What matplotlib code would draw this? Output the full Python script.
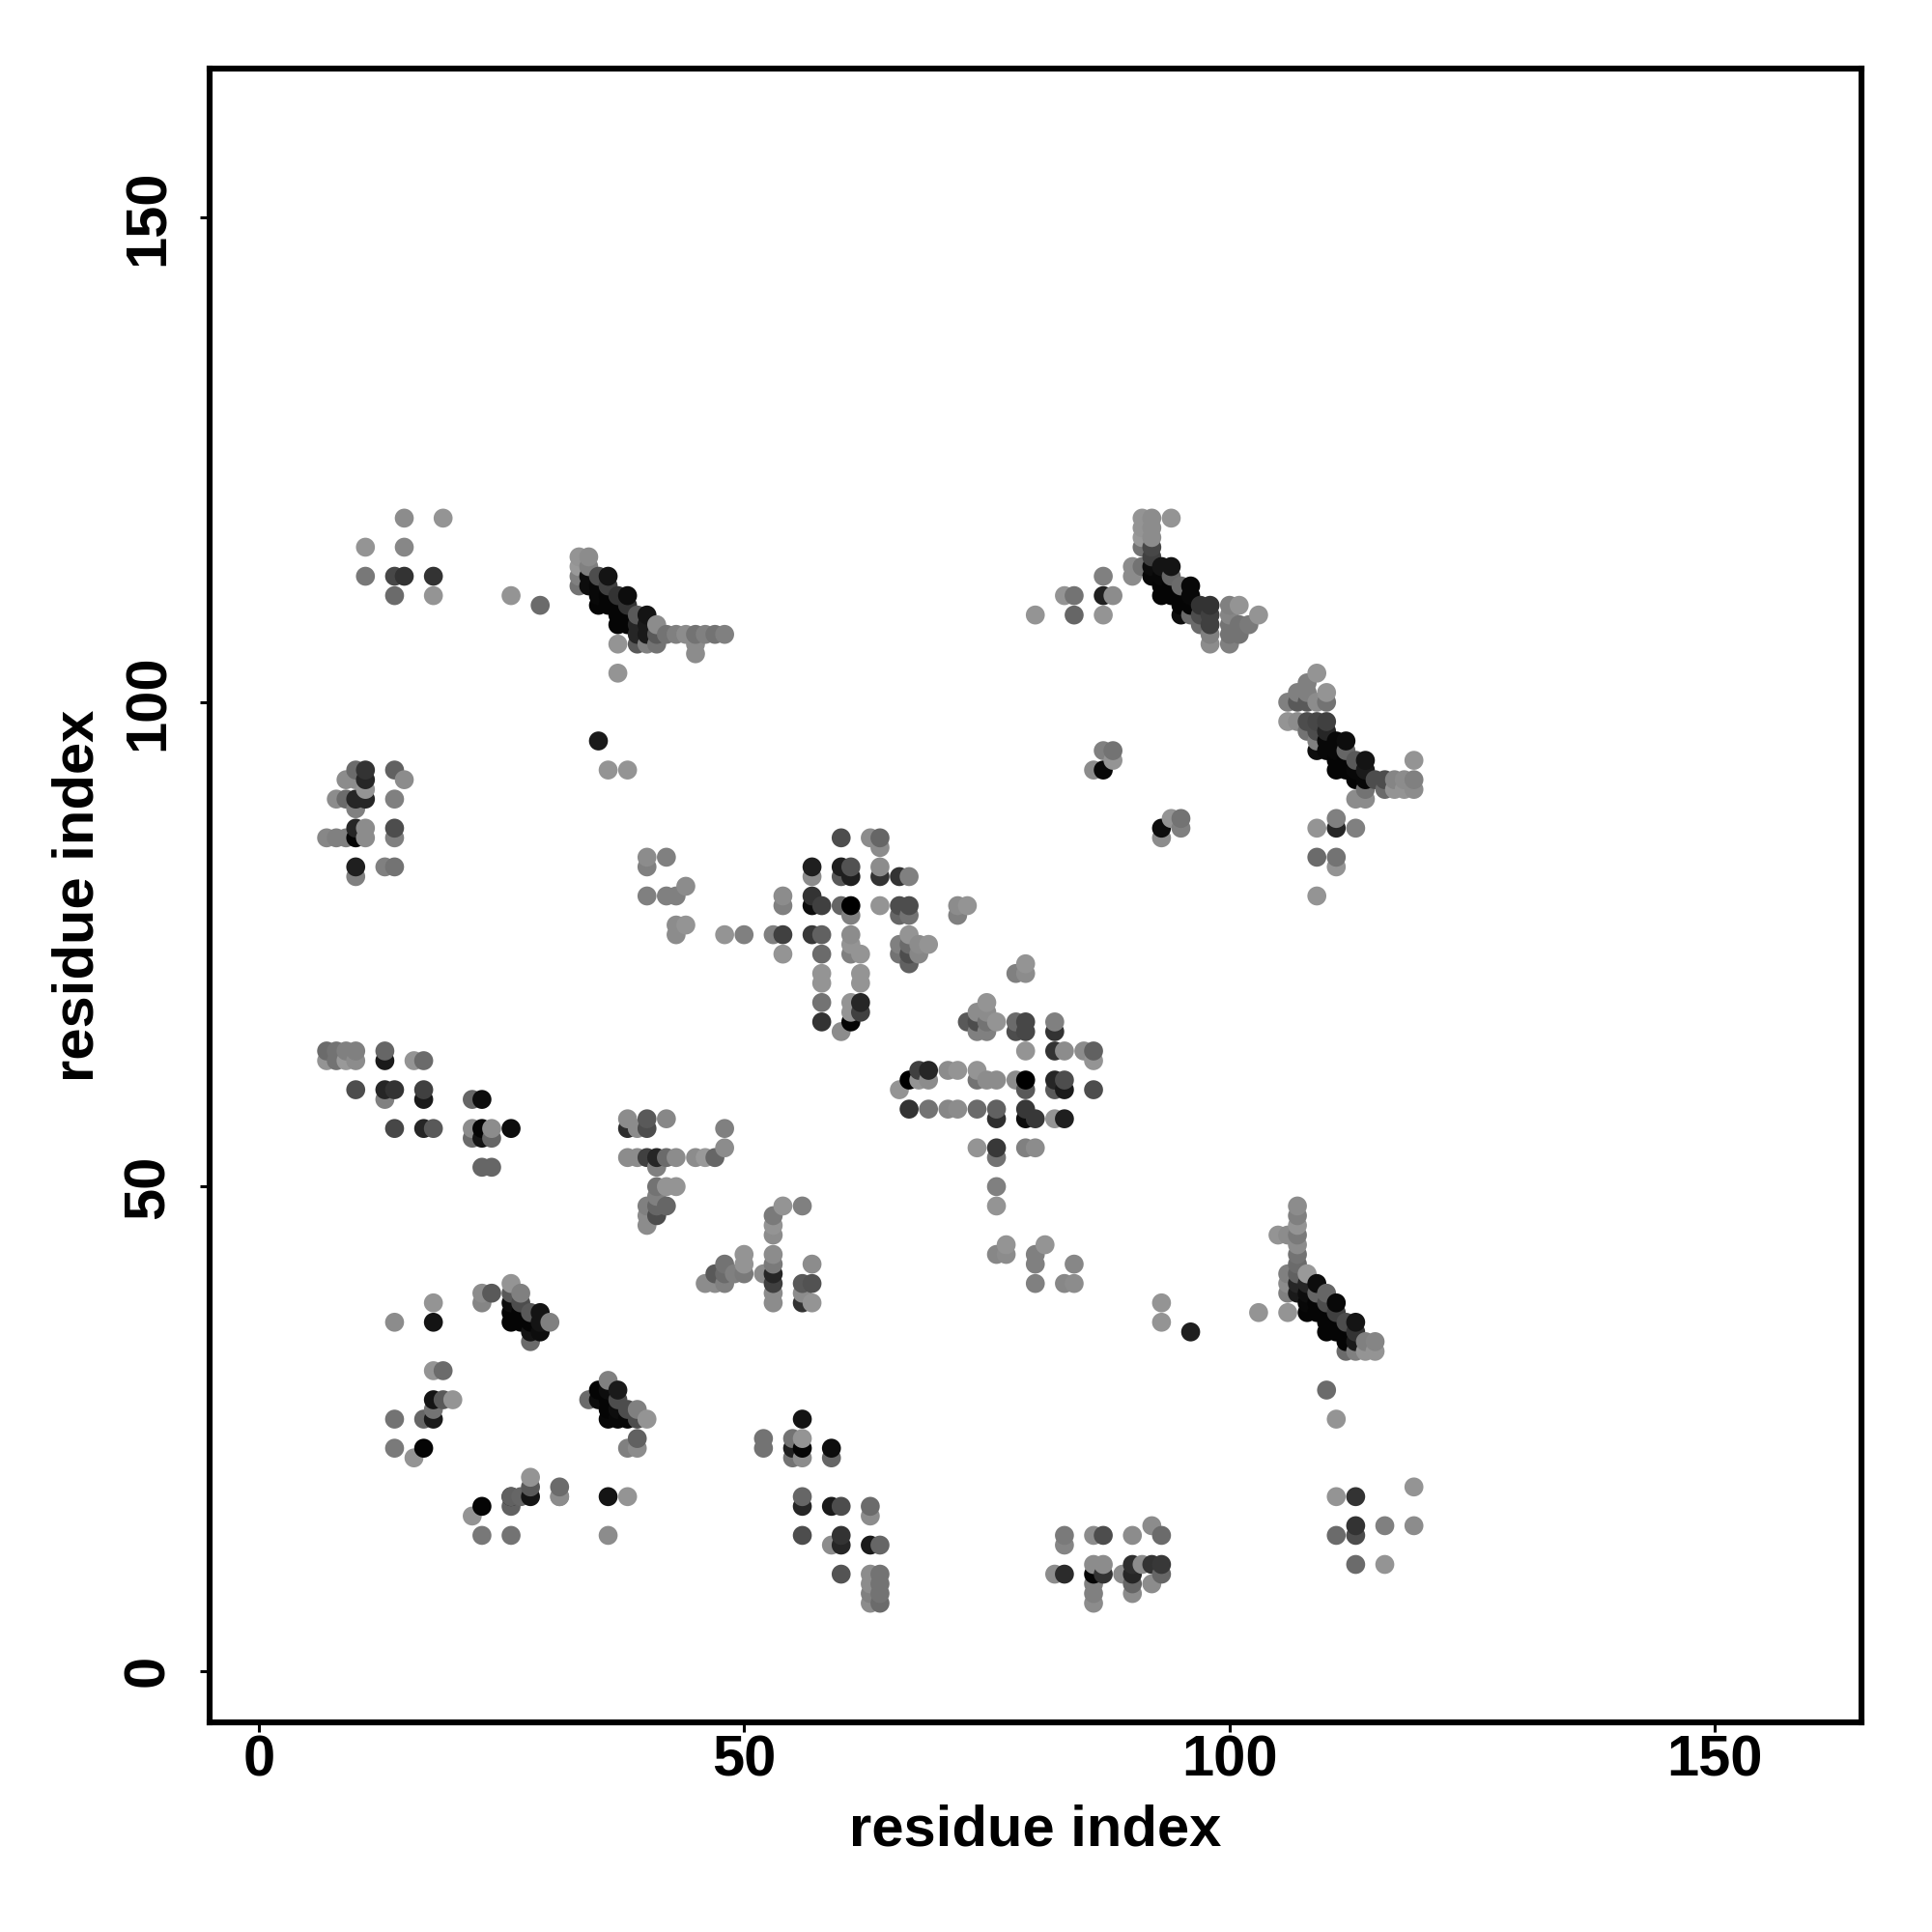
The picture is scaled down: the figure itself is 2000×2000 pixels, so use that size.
import numpy as np
import matplotlib
matplotlib.use("Agg")
import matplotlib.pyplot as plt

plt.rcParams["font.family"] = ["Liberation Sans", "DejaVu Sans"]

tick_values = [0, 50, 100, 150]
axis_label = "residue index"

# contact rows: one entry per row of points
row_y = [
    119, 116, 113, 111, 110, 115, 114, 113, 112, 111, 110, 109, 108, 107, 106, 105, 103, 96,
    93, 92, 91, 90, 89, 87, 86, 83, 82, 84, 83, 81, 80, 77, 76,
    64, 63, 60, 59, 56, 55, 52, 57, 56, 53, 54, 56, 52, 50, 49, 48, 47, 46,
    111, 109, 113, 111, 109, 95, 94, 93,
    86, 85, 83, 82, 80, 79, 78, 76, 75, 74, 73, 72, 71, 69, 68, 67, 66,
    73, 72, 69, 68, 67, 66, 64, 63, 62, 61, 60, 58, 57, 54, 53, 50, 48,
    48, 47, 46, 45, 43, 42, 41, 40, 39, 38,
    44, 43, 42, 40,
    26, 24, 23, 22, 18, 17, 16, 14, 13, 10, 9, 8, 7,
    15, 14, 13, 11, 10, 9, 8, 7,
    19, 18, 15, 14, 11, 29, 26, 38, 36, 35, 37,
    48, 47, 46, 45, 44, 43, 42, 41, 40, 39, 38, 37, 36, 35, 34, 33,
    38, 36, 31, 28, 27, 26, 23, 22, 17, 16, 18, 19, 20, 18, 17, 14,
    40, 39, 38, 37, 36, 35, 34,
    30, 29, 28, 27, 26, 24, 23,
    119, 118, 117, 116, 115, 114, 113, 112, 111, 110, 109, 108, 107, 106,
    88, 87, 86,
    103, 102, 101, 100, 98, 97, 96, 95, 94, 93, 92, 91, 90,
    88, 87, 84, 83, 80,
]
row_x = [
    [15, 19], [11, 15], [11, 14, 15, 18], [14, 18, 26], [29], [33, 34], [33, 34], [33, 34, 35, 36],
    [33, 34, 35, 36], [35, 36, 37, 38], [35, 36, 37, 38], [37, 38, 39, 40], [37, 38, 39, 40, 41],
    [39, 40, 41, 42, 43, 44, 45, 46, 47, 48], [37, 39, 40, 41, 45], [45], [37], [35],
    [10, 11, 14, 36, 38], [9, 10, 11, 15], [11], [8, 9, 10, 11, 14], [10], [10, 11, 14],
    [7, 8, 9, 10, 11, 14], [10, 13, 14], [10], [40, 42], [40], [44], [40, 42, 43], [43, 44], [43],
    [7, 8, 9, 10, 13], [7, 8, 9, 10, 13, 16, 17], [10, 13, 14, 17], [13, 17, 22, 23],
    [14, 17, 18, 22, 23, 24, 26], [22, 23, 24], [23, 24], [38, 40, 42], [38, 39, 40],
    [38, 39, 40, 41, 42, 43, 45, 46, 47], [48], [48], [41], [41, 42, 43], [41], [40, 41, 42],
    [40, 41], [40],
    [83, 84], [80, 84], [87], [87, 88], [87], [87, 88], [88], [86, 87],
    [60, 63, 64], [64], [57, 60, 61, 64], [57, 60, 61, 64, 66, 67], [54, 57],
    [54, 57, 58, 60, 61, 64, 66, 67, 72, 73], [61, 66, 67, 72],
    [48, 50, 53, 54, 57, 58, 61, 67], [61, 66, 67, 68, 69], [54, 58, 61, 62, 66, 67, 68], [67],
    [58, 62], [58, 62], [58, 61, 62], [61, 62], [58, 61], [60],
    [79], [78, 79], [75], [74, 75], [73, 74, 75, 76, 78, 79, 82], [74, 75, 78, 79, 82],
    [79, 82, 83, 85, 86], [86], [68, 69, 71, 72, 74],
    [67, 68, 69, 74, 75, 76, 78, 79, 82, 83], [66, 79, 82, 83, 86],
    [67, 69, 71, 72, 74, 76, 79], [76, 79, 80, 82, 83], [74, 76, 79, 80], [76], [76], [76],
    [54, 56], [53], [53], [53], [50, 53], [48, 50, 53, 57], [47, 48, 49, 50, 52, 53],
    [46, 47, 48, 53, 56, 57], [53, 56], [53, 56, 57],
    [77, 81], [76, 77, 80], [80, 84], [80, 83, 84],
    [56], [52, 55, 56], [52, 55, 56, 59], [55, 56, 59], [56], [56, 59, 60, 63], [63], [56, 60],
    [59, 60, 63, 64], [60, 63, 64], [63, 64], [63, 64], [63, 64],
    [92], [83, 86, 87, 90, 93], [83], [86, 87, 90, 91, 92, 93], [82, 83, 86, 87, 89, 90, 93],
    [86, 90, 92], [86, 90], [86],
    [119], [111, 113], [113, 116, 119], [111, 113], [113, 116], [110], [111], [93], [93], [96],
    [103, 106],
    [107], [107], [107], [105, 106, 107], [107], [107], [107], [106, 107, 108],
    [106, 107, 108, 109], [106, 107, 108, 109, 110], [108, 109, 110, 111], [108, 109, 110, 111],
    [110, 111, 112, 113], [110, 111, 112, 113], [112, 113, 114, 115], [112, 113, 114, 115],
    [18], [14, 18], [18, 19], [18, 19, 20], [18], [14, 17, 18], [14, 17], [16], [23], [22],
    [26, 27, 28, 31, 36, 38], [28, 31], [28], [26, 31], [26], [23, 26, 36],
    [26], [23, 24, 26, 27], [23, 26, 27], [26, 27, 28, 29], [26, 27, 28, 29, 30], [28, 29], [28],
    [36], [35, 36, 37], [34, 35, 36, 37], [36, 37, 38, 39], [36, 37, 38, 39, 40], [39], [38, 39],
    [91, 92, 94], [91, 92], [91, 92], [91, 92], [92], [90, 91, 92, 93, 94], [90, 92, 93, 94],
    [93, 94, 95, 96], [93, 94, 95, 96], [95, 96, 97, 98, 100, 101],
    [95, 96, 97, 98, 100, 103], [97, 98, 100, 101, 102], [98, 100, 101], [98, 100],
    [94, 95], [93, 95], [93],
    [109], [108], [107, 108, 110], [106, 107, 108, 109, 110], [106, 107, 108, 109, 110],
    [108, 109, 110], [109, 110, 111, 112], [109, 110, 111, 112], [111, 112, 113, 114, 119],
    [111, 112, 113, 114], [113, 114, 115, 116, 117, 118, 119], [114, 116, 117, 118, 119], [113, 114],
    [111], [109, 111, 113], [109, 111], [111], [109],
]
row_shade = [
    [.55, .58], [.58, .53], [.47, .28, .2, .2], [.42, .58, .58], [.42], [.58, .55], [.6, .5],
    [.5, .05, .3, .08], [.45, .05, .03, .25], [.03, .02, .2, .05], [.02, .02, .02, .2],
    [.02, .02, .35, .08], [.02, .02, .15, .1, .55],
    [.15, .1, .35, .45, .5, .55, .45, .5, .45, .5], [.58, .35, .5, .45, .55], [.55], [.58], [.1],
    [.42, .2, .38, .58, .58], [.55, .55, .15, .55], [.58], [.55, .42, .15, .15, .5], [.5],
    [.15, .55, .3], [.53, .5, .5, .02, .55, .5], [.12, .5, .45], [.5], [.55, .5], [.5], [.55],
    [.5, .5, .5], [.55, .58], [.55],
    [.42, .45, .5, .5, .4], [.58, .45, .6, .55, .1, .58, .42], [.3, .15, .2, .25],
    [.5, .1, .4, .05], [.28, .15, .35, .55, .02, .55, .05], [.42, .08, .4], [.4, .4],
    [.55, .35, .53], [.18, .55, .3], [.55, .55, .25, .15, .42, .55, .55, .6, .4], [.55], [.5],
    [.5], [.45, .58, .58], [.5], [.5, .4, .4], [.55, .3], [.55],
    [.58, .45], [.58, .4], [.5], [.12, .55], [.58], [.5, .45], [.58], [.55, .03],
    [.3, .55, .4], [.55], [.12, .12, .32, .55], [.55, .35, .12, .2, .2, .5], [.55, .2],
    [.5, .05, .25, .4, .0, .58, .3, .3, .55, .58], [.5, .4, .45, .5],
    [.58, .5, .5, .25, .22, .38, .55, .58], [.58, .5, .42, .55, .58],
    [.58, .42, .5, .58, .45, .3, .53], [.38], [.58, .58], [.58, .58], [.45, .58, .15],
    [.58, .25], [.2, .02], [.55],
    [.58], [.5, .55], [.58], [.55, .55], [.35, .3, .45, .58, .42, .28, .5], [.5, .5, .3, .28, .2],
    [.58, .2, .55, .55, .38], [.58], [.25, .15, .55, .58, .58],
    [.0, .58, .55, .45, .55, .55, .55, .0, .15, .3], [.58, .35, .35, .1, .3],
    [.2, .45, .53, .55, .42, .38, .22], [.18, .05, .22, .58, .12], [.58, .22, .5, .55], [.45],
    [.5], [.58],
    [.58, .5], [.48], [.58], [.55], [.58, .55], [.45, .58, .48, .55],
    [.35, .42, .5, .48, .55, .15], [.55, .55, .5, .25, .35, .32], [.55, .55], [.55, .2, .58],
    [.58, .58], [.53, .55, .5], [.5, .53], [.5, .53, .55],
    [.08], [.45, .45, .58], [.45, .12, .02, .05], [.45, .55, .4], [.4], [.15, .1, .3, .42], [.55],
    [.3, .2], [.55, .15, .1, .4], [.33, .55, .45], [.55, .45], [.5, .45], [.55, .42],
    [.55], [.48, .55, .3, .55, .42], [.52], [.55, .55, .18, .55, .2, .22],
    [.55, .17, .02, .2, .55, .15, .4], [.5, .4, .55], [.5, .55], [.55],
    [.58], [.58, .2], [.2, .5, .55], [.42, .3], [.42, .58], [.42], [.58], [.58], [.58], [.12],
    [.58, .58],
    [.55], [.5], [.58], [.58, .55, .48], [.55], [.45], [.42], [.5, .38, .6],
    [.55, .15, .15, .05], [.5, .1, .05, .4, .4], [.03, .02, .3, .03], [.02, .02, .02, .25],
    [.02, .02, .3, .08], [.02, .02, .02, .2], [.02, .1, .5, .52], [.42, .5, .58, .58],
    [.58], [.55, .08], [.58, .42], [.08, .35, .58], [.45], [.45, .4, .1], [.48, .02], [.58], [.02],
    [.58], [.1, .4, .08, .55, .08, .58], [.35, .42], [.58], [.38, .55], [.38], [.47, .45, .55],
    [.58], [.55, .35, .35, .5], [.52, .05, .3], [.02, .02, .35, .08], [.02, .02, .02, .08, .5],
    [.08, .05], [.42],
    [.5], [.02, .05, .1], [.42, .05, .02, .3], [.02, .05, .3, .5], [.03, .03, .03, .3, .58], [.38],
    [.5, .55],
    [.58, .55, .58], [.58, .55], [.6, .55], [.45, .28], [.25], [.55, .45, .05, .08, .08],
    [.55, .03, .03, .4], [.02, .02, .42, .03], [.02, .02, .02, .03], [.02, .02, .2, .2, .5, .58],
    [.05, .42, .3, .25, .52, .58], [.42, .25, .45, .45, .48], [.5, .45, .45], [.55, .5],
    [.58, .45], [.05, .5], [.55],
    [.58], [.5], [.5, .5, .58], [.5, .35, .35, .55, .45], [.58, .55, .3, .28, .25],
    [.45, .3, .15], [.5, .03, .03, .05], [.05, .03, .03, .4], [.02, .02, .35, .08, .58],
    [.02, .02, .03, .1], [.02, .03, .3, .3, .52, .55, .5], [.45, .42, .58, .58, .55], [.55, .55],
    [.5], [.58, .15, .5], [.42, .45], [.58], [.58],
]


def collect_points():
    xs, ys, shades = [], [], []
    for y, x_vals, shade_vals in zip(row_y, row_x, row_shade):
        for x, s in zip(x_vals, shade_vals):
            xs.append(x)
            ys.append(y)
            shades.append(s)
    xs, ys, shades = np.array(xs), np.array(ys), np.array(shades)
    # columns are drawn left to right, bottom to top
    order = np.lexsort((ys, xs))
    return xs[order], ys[order], shades[order]


def main():
    xs, ys, shades = collect_points()

    fig = plt.figure(figsize=(10, 10), dpi=200)
    ax = fig.add_axes([217 / 2000, 1 - 1783 / 2000, 1710 / 2000, 1712 / 2000])
    ax.scatter(xs, ys, s=50, c=[str(s) for s in shades], linewidths=0, clip_on=True)

    ax.set_xlim(-5.05, 165.1)
    ax.set_ylim(-5.3, 165.4)
    ax.set_xticks(tick_values)
    ax.set_yticks(tick_values)
    ax.tick_params(axis="both", length=3.6, width=1.1, labelsize=21.5)
    ax.tick_params(axis="x", pad=0.8)
    ax.tick_params(axis="y", pad=9.2)
    for lab in ax.get_xticklabels() + ax.get_yticklabels():
        lab.set_fontweight("bold")
    for lab in ax.get_yticklabels():
        lab.set_rotation(90)
        lab.set_verticalalignment("center")
    for spine in ax.spines.values():
        spine.set_linewidth(2.2)

    ax.set_xlabel(axis_label, fontsize=21.5, fontweight="bold", labelpad=6.2)
    ax.set_ylabel(axis_label, fontsize=21.5, fontweight="bold", labelpad=6.4)

    fig.savefig("out.png", dpi=200)


if __name__ == "__main__":
    main()
